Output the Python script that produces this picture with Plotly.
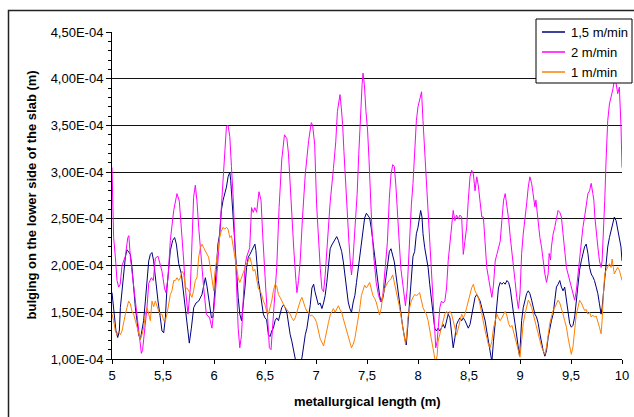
import plotly.graph_objects as go

# bulging values are given in units of 1e-4 m
SCALE = 1e-4

x_15 = [5.0, 5.01, 5.026, 5.039, 5.056, 5.072, 5.082, 5.098, 5.114, 5.131, 5.147, 5.163, 5.18, 5.196, 5.212, 5.229,
        5.245, 5.261, 5.278, 5.294, 5.31, 5.327, 5.343, 5.36, 5.376, 5.392, 5.408, 5.425, 5.451, 5.474, 5.49, 5.507,
        5.523, 5.539, 5.556, 5.572, 5.595, 5.614, 5.631, 5.654, 5.68, 5.703, 5.725, 5.745, 5.758, 5.778, 5.801, 5.824,
        5.85, 5.882, 5.915, 5.931, 5.944, 5.957, 5.975, 5.99, 6.007, 6.023, 6.039, 6.056, 6.072, 6.089, 6.105, 6.122,
        6.138, 6.155, 6.164, 6.178, 6.188, 6.204, 6.22, 6.237, 6.253, 6.27, 6.286, 6.303, 6.319, 6.336, 6.352, 6.368,
        6.385, 6.401, 6.411, 6.421, 6.434, 6.451, 6.467, 6.484, 6.5, 6.516, 6.533, 6.549, 6.566, 6.582, 6.599, 6.615,
        6.632, 6.648, 6.664, 6.681, 6.697, 6.714, 6.73, 6.747, 6.763, 6.78, 6.796, 6.806, 6.83, 6.845, 6.862, 6.878,
        6.895, 6.911, 6.928, 6.944, 6.96, 6.977, 6.99, 7.006, 7.023, 7.04, 7.058, 7.074, 7.09, 7.106, 7.122, 7.139,
        7.155, 7.171, 7.187, 7.203, 7.219, 7.235, 7.252, 7.268, 7.284, 7.3, 7.316, 7.332, 7.348, 7.365, 7.381, 7.397,
        7.413, 7.429, 7.445, 7.461, 7.477, 7.494, 7.51, 7.526, 7.542, 7.558, 7.574, 7.59, 7.606, 7.623, 7.639, 7.655,
        7.671, 7.687, 7.703, 7.719, 7.735, 7.752, 7.768, 7.784, 7.8, 7.816, 7.832, 7.848, 7.865, 7.885, 7.903, 7.919,
        7.935, 7.951, 7.967, 7.984, 8.0, 8.016, 8.026, 8.039, 8.049, 8.066, 8.082, 8.099, 8.115, 8.132, 8.148, 8.164,
        8.18, 8.197, 8.214, 8.23, 8.247, 8.263, 8.28, 8.296, 8.313, 8.329, 8.345, 8.362, 8.378, 8.395, 8.411, 8.428,
        8.444, 8.461, 8.477, 8.493, 8.51, 8.526, 8.543, 8.559, 8.576, 8.592, 8.609, 8.625, 8.641, 8.658, 8.674, 8.691,
        8.707, 8.724, 8.74, 8.757, 8.773, 8.789, 8.806, 8.822, 8.839, 8.855, 8.872, 8.888, 8.905, 8.921, 8.935, 8.951,
        8.968, 8.984, 8.995, 9.0, 9.016, 9.032, 9.049, 9.065, 9.081, 9.097, 9.114, 9.13, 9.146, 9.162, 9.179, 9.195,
        9.211, 9.227, 9.244, 9.26, 9.276, 9.292, 9.308, 9.325, 9.341, 9.357, 9.373, 9.39, 9.406, 9.422, 9.438, 9.455,
        9.471, 9.487, 9.503, 9.519, 9.536, 9.552, 9.568, 9.584, 9.601, 9.617, 9.633, 9.649, 9.666, 9.682, 9.698, 9.714,
        9.73, 9.747, 9.763, 9.779, 9.795, 9.805, 9.818, 9.831, 9.844, 9.86, 9.877, 9.893, 9.909, 9.925, 9.942, 9.958,
        9.974, 9.99, 10.0]
y_15 = [1.71, 1.62, 1.44, 1.3, 1.23, 1.3, 1.55, 1.73, 1.91, 2.09, 2.17, 2.15, 2.12, 1.98, 1.76, 1.55,
        1.41, 1.26, 1.21, 1.3, 1.41, 1.62, 1.87, 2.05, 2.12, 2.14, 2.05, 1.87, 1.62, 1.44, 1.3, 1.28,
        1.44, 1.76, 1.98, 2.16, 2.27, 2.3, 2.23, 2.02, 1.91, 1.69, 1.44, 1.26, 1.17, 1.33, 1.55, 1.6,
        1.62, 1.69, 1.87, 1.78, 1.69, 1.55, 1.44, 1.45, 1.69, 1.98, 2.23, 2.34, 2.59, 2.7, 2.77, 2.84,
        2.95, 3.0, 2.91, 2.7, 2.48, 2.23, 1.98, 1.66, 1.48, 1.41, 1.55, 1.76, 1.98, 2.09, 2.12, 2.16,
        2.21, 2.23, 2.16, 1.98, 1.84, 1.73, 1.62, 1.48, 1.44, 1.42, 1.26, 1.24, 1.3, 1.33, 1.41, 1.44,
        1.41, 1.48, 1.55, 1.58, 1.55, 1.5, 1.37, 1.26, 1.19, 1.1, 1.01, 0.95, 0.95, 0.97, 1.01, 1.15,
        1.26, 1.33, 1.44, 1.58, 1.76, 1.8, 1.72, 1.65, 1.58, 1.6, 1.54, 1.6, 1.68, 1.82, 2.04, 2.18,
        2.22, 2.25, 2.29, 2.31, 2.27, 2.22, 2.15, 2.04, 1.9, 1.75, 1.61, 1.54, 1.5, 1.61, 1.68, 1.82,
        1.97, 2.11, 2.25, 2.4, 2.51, 2.56, 2.54, 2.51, 2.4, 2.25, 2.11, 1.97, 1.82, 1.68, 1.61, 1.65,
        1.75, 1.9, 2.04, 2.15, 2.18, 2.11, 2.04, 1.9, 1.75, 1.61, 1.47, 1.36, 1.25, 1.15, 1.4, 1.63,
        1.86, 2.1, 2.15, 2.34, 2.41, 2.55, 2.59, 2.52, 2.34, 2.19, 2.09, 1.98, 1.8, 1.62, 1.48, 1.33,
        1.3, 1.33, 1.3, 1.33, 1.37, 1.33, 1.41, 1.48, 1.44, 1.26, 1.12, 1.23, 1.37, 1.41, 1.44, 1.41,
        1.44, 1.41, 1.37, 1.33, 1.37, 1.48, 1.58, 1.66, 1.69, 1.66, 1.62, 1.55, 1.48, 1.41, 1.3, 1.19,
        1.05, 0.97, 1.19, 1.41, 1.62, 1.76, 1.82, 1.8, 1.82, 1.8, 1.84, 1.82, 1.75, 1.64, 1.5, 1.38,
        1.25, 1.12, 1.03, 1.1, 1.41, 1.55, 1.63, 1.7, 1.73, 1.7, 1.63, 1.55, 1.48, 1.45, 1.38, 1.27,
        1.16, 1.09, 1.03, 1.09, 1.23, 1.34, 1.41, 1.48, 1.63, 1.77, 1.8, 1.84, 1.77, 1.73, 1.77, 1.63,
        1.48, 1.38, 1.34, 1.36, 1.45, 1.63, 1.77, 1.95, 2.05, 2.13, 2.2, 2.23, 2.13, 1.98, 1.91, 1.88,
        1.84, 1.77, 1.7, 1.59, 1.48, 1.55, 1.7, 1.91, 2.05, 2.2, 2.3, 2.38, 2.45, 2.52, 2.48, 2.38,
        2.27, 2.2, 2.05]

x_2 = [5.0, 5.007, 5.016, 5.033, 5.049, 5.065, 5.08, 5.098, 5.131, 5.155, 5.165, 5.18, 5.212, 5.245, 5.268, 5.288,
       5.3, 5.317, 5.343, 5.36, 5.386, 5.405, 5.425, 5.451, 5.47, 5.49, 5.516, 5.529, 5.549, 5.572, 5.605, 5.637,
       5.66, 5.68, 5.703, 5.719, 5.745, 5.768, 5.784, 5.8, 5.817, 5.833, 5.85, 5.876, 5.899, 5.925, 5.957, 5.98,
       6.007, 6.039, 6.072, 6.099, 6.122, 6.138, 6.155, 6.171, 6.188, 6.204, 6.22, 6.237, 6.253, 6.27, 6.286, 6.303,
       6.319, 6.35, 6.368, 6.385, 6.401, 6.418, 6.441, 6.461, 6.477, 6.493, 6.507, 6.526, 6.543, 6.559, 6.582, 6.615,
       6.638, 6.664, 6.691, 6.714, 6.73, 6.747, 6.763, 6.783, 6.803, 6.813, 6.829, 6.845, 6.868, 6.895, 6.928, 6.954,
       6.967, 6.987, 7.006, 7.023, 7.042, 7.058, 7.074, 7.09, 7.113, 7.139, 7.171, 7.194, 7.21, 7.226, 7.235, 7.248,
       7.261, 7.274, 7.29, 7.306, 7.323, 7.339, 7.348, 7.361, 7.387, 7.403, 7.419, 7.435, 7.452, 7.461, 7.474, 7.49,
       7.506, 7.519, 7.532, 7.548, 7.565, 7.59, 7.613, 7.635, 7.655, 7.677, 7.7, 7.719, 7.735, 7.752, 7.768, 7.784,
       7.797, 7.816, 7.832, 7.855, 7.877, 7.894, 7.913, 7.935, 7.951, 7.967, 7.984, 8.0, 8.02, 8.035, 8.049, 8.066,
       8.082, 8.099, 8.115, 8.132, 8.148, 8.164, 8.174, 8.188, 8.197, 8.214, 8.23, 8.247, 8.263, 8.28, 8.296, 8.313,
       8.329, 8.345, 8.362, 8.378, 8.395, 8.411, 8.428, 8.444, 8.461, 8.477, 8.493, 8.51, 8.526, 8.543, 8.559, 8.576,
       8.592, 8.609, 8.625, 8.641, 8.658, 8.674, 8.691, 8.707, 8.724, 8.74, 8.757, 8.773, 8.789, 8.806, 8.822, 8.839,
       8.855, 8.872, 8.888, 8.905, 8.921, 8.935, 8.951, 8.968, 8.984, 9.0, 9.016, 9.032, 9.049, 9.065, 9.081, 9.097,
       9.114, 9.13, 9.146, 9.156, 9.169, 9.179, 9.195, 9.211, 9.227, 9.244, 9.26, 9.276, 9.286, 9.299, 9.308, 9.325,
       9.341, 9.357, 9.373, 9.39, 9.406, 9.422, 9.438, 9.455, 9.471, 9.487, 9.503, 9.519, 9.536, 9.552, 9.568, 9.584,
       9.601, 9.617, 9.633, 9.649, 9.666, 9.682, 9.698, 9.714, 9.724, 9.734, 9.747, 9.763, 9.779, 9.795, 9.805, 9.818,
       9.831, 9.844, 9.86, 9.877, 9.893, 9.909, 9.925, 9.942, 9.958, 9.974, 9.99, 10.0]
y_2 = [3.05, 2.73, 2.3, 2.09, 1.84, 1.77, 1.8, 2.0, 2.1, 2.3, 2.32, 2.09, 1.77, 1.48, 1.26, 1.06,
       1.1, 1.26, 1.55, 1.81, 1.87, 1.84, 2.08, 2.1, 2.03, 1.94, 1.75, 1.71, 1.87, 2.27, 2.59, 2.77,
       2.69, 2.41, 2.05, 1.76, 1.48, 1.76, 2.34, 2.73, 2.86, 2.69, 2.41, 2.05, 1.76, 1.48, 1.44, 1.33,
       1.62, 2.05, 2.62, 3.2, 3.49, 3.5, 3.38, 3.06, 2.73, 2.27, 1.76, 1.33, 1.12, 1.26, 1.62, 1.98,
       2.09, 2.19, 2.62, 2.57, 2.62, 2.57, 2.79, 2.7, 2.34, 1.98, 1.76, 1.44, 1.12, 1.1, 1.44, 1.98,
       2.62, 3.13, 3.4, 3.36, 3.2, 2.84, 2.52, 2.16, 1.84, 1.71, 1.84, 2.05, 2.52, 2.98, 3.34, 3.53,
       3.5, 3.3, 2.65, 2.25, 1.97, 1.75, 1.72, 1.9, 2.25, 2.68, 3.04, 3.33, 3.65, 3.8, 3.83, 3.69,
       3.51, 3.22, 2.86, 2.54, 2.25, 2.0, 1.9, 2.04, 2.47, 2.76, 3.19, 3.62, 3.94, 4.06, 3.94, 3.65,
       3.44, 3.15, 2.76, 2.4, 2.11, 1.82, 1.68, 1.61, 1.68, 1.97, 2.25, 2.72, 2.97, 3.08, 3.06, 2.84,
       2.54, 2.25, 1.97, 1.75, 1.57, 1.75, 2.25, 2.65, 2.88, 3.23, 3.55, 3.7, 3.8, 3.86, 3.55, 3.23,
       2.88, 2.52, 2.24, 1.91, 1.62, 1.37, 1.12, 1.19, 1.33, 1.55, 1.62, 1.6, 1.62, 1.76, 2.05, 2.27,
       2.41, 2.59, 2.48, 2.54, 2.5, 2.54, 2.52, 2.12, 2.27, 2.41, 2.7, 2.95, 3.02, 2.98, 2.8, 2.95,
       2.85, 2.7, 2.52, 2.52, 2.27, 1.98, 1.87, 1.76, 1.66, 1.79, 2.05, 2.12, 2.19, 2.26, 2.48, 2.7,
       2.77, 2.64, 2.5, 2.3, 2.16, 2.02, 1.84, 1.66, 1.54, 1.7, 2.13, 2.34, 2.48, 2.66, 2.84, 2.95,
       2.88, 2.77, 2.63, 2.7, 2.55, 2.48, 2.3, 2.2, 2.05, 1.91, 1.82, 1.91, 2.13, 2.06, 2.2, 2.34,
       2.41, 2.52, 2.59, 2.57, 2.52, 2.34, 2.16, 1.98, 1.91, 1.84, 1.77, 1.7, 1.63, 1.73, 1.91, 2.09,
       2.2, 2.41, 2.52, 2.66, 2.77, 2.8, 2.88, 2.77, 2.7, 2.52, 2.34, 2.2, 2.05, 1.98, 2.05, 2.34,
       2.7, 3.13, 3.55, 3.73, 3.8, 3.88, 3.98, 3.95, 3.84, 3.91, 3.5, 3.05]

x_1 = [5.0, 5.016, 5.033, 5.049, 5.065, 5.082, 5.098, 5.114, 5.131, 5.147, 5.163, 5.18, 5.196, 5.212, 5.229, 5.245,
       5.261, 5.278, 5.294, 5.31, 5.327, 5.343, 5.36, 5.376, 5.392, 5.408, 5.425, 5.441, 5.458, 5.474, 5.49, 5.507,
       5.523, 5.539, 5.556, 5.572, 5.588, 5.605, 5.621, 5.637, 5.654, 5.67, 5.686, 5.703, 5.719, 5.735, 5.752, 5.768,
       5.784, 5.8, 5.817, 5.833, 5.85, 5.866, 5.882, 5.899, 5.915, 5.931, 5.947, 5.964, 5.98, 5.997, 6.007, 6.023,
       6.039, 6.056, 6.072, 6.089, 6.105, 6.122, 6.138, 6.155, 6.171, 6.188, 6.204, 6.22, 6.237, 6.253, 6.27, 6.286,
       6.303, 6.319, 6.336, 6.352, 6.368, 6.385, 6.401, 6.418, 6.434, 6.451, 6.467, 6.484, 6.5, 6.516, 6.533, 6.549,
       6.566, 6.582, 6.599, 6.615, 6.632, 6.648, 6.664, 6.681, 6.697, 6.714, 6.73, 6.747, 6.763, 6.78, 6.796, 6.813,
       6.829, 6.845, 6.862, 6.878, 6.895, 6.911, 6.928, 6.944, 6.96, 6.977, 6.99, 7.006, 7.023, 7.04, 7.058, 7.074,
       7.09, 7.106, 7.122, 7.139, 7.155, 7.171, 7.187, 7.203, 7.219, 7.235, 7.252, 7.268, 7.284, 7.3, 7.316, 7.332,
       7.348, 7.365, 7.381, 7.397, 7.413, 7.429, 7.445, 7.461, 7.477, 7.494, 7.51, 7.526, 7.542, 7.558, 7.574, 7.59,
       7.606, 7.623, 7.639, 7.655, 7.671, 7.687, 7.703, 7.719, 7.735, 7.752, 7.768, 7.784, 7.8, 7.816, 7.832, 7.848,
       7.865, 7.877, 7.887, 7.901, 7.918, 7.934, 7.951, 7.967, 7.984, 8.0, 8.016, 8.033, 8.049, 8.066, 8.082, 8.099,
       8.115, 8.132, 8.148, 8.164, 8.174, 8.188, 8.197, 8.214, 8.23, 8.247, 8.263, 8.28, 8.296, 8.313, 8.329, 8.345,
       8.362, 8.378, 8.395, 8.411, 8.428, 8.444, 8.461, 8.477, 8.493, 8.51, 8.526, 8.543, 8.559, 8.576, 8.592, 8.609,
       8.625, 8.641, 8.658, 8.674, 8.691, 8.707, 8.724, 8.74, 8.757, 8.773, 8.789, 8.806, 8.822, 8.839, 8.855, 8.872,
       8.888, 8.905, 8.921, 8.935, 8.951, 8.968, 8.984, 9.0, 9.016, 9.032, 9.049, 9.065, 9.081, 9.097, 9.114, 9.13,
       9.146, 9.162, 9.179, 9.195, 9.211, 9.227, 9.244, 9.26, 9.276, 9.292, 9.308, 9.325, 9.341, 9.357, 9.373, 9.39,
       9.406, 9.422, 9.438, 9.455, 9.471, 9.487, 9.503, 9.519, 9.536, 9.552, 9.568, 9.584, 9.601, 9.617, 9.633, 9.649,
       9.666, 9.682, 9.698, 9.714, 9.73, 9.747, 9.763, 9.779, 9.795, 9.805, 9.818, 9.831, 9.844, 9.86, 9.877, 9.893,
       9.903, 9.915, 9.925, 9.942, 9.958, 9.974, 9.99, 10.0]
y_1 = [1.48, 1.41, 1.3, 1.26, 1.3, 1.26, 1.3, 1.41, 1.48, 1.55, 1.62, 1.59, 1.51, 1.48, 1.41, 1.33,
       1.26, 1.21, 1.26, 1.33, 1.48, 1.55, 1.48, 1.41, 1.62, 1.56, 1.62, 1.56, 1.51, 1.48, 1.48, 1.41,
       1.41, 1.48, 1.58, 1.69, 1.73, 1.84, 1.84, 1.87, 1.84, 1.87, 1.94, 1.91, 1.76, 1.76, 1.73, 1.69,
       1.66, 1.73, 1.84, 1.87, 2.09, 2.19, 2.23, 2.19, 2.16, 2.12, 2.09, 1.98, 1.84, 1.73, 1.91, 2.05,
       2.19, 2.3, 2.37, 2.41, 2.39, 2.41, 2.39, 2.3, 2.32, 2.19, 2.09, 1.98, 1.87, 1.82, 1.87, 1.94,
       1.98, 2.02, 2.05, 2.09, 2.02, 1.94, 1.96, 1.84, 1.76, 1.73, 1.69, 1.62, 1.58, 1.51, 1.48, 1.55,
       1.62, 1.73, 1.8, 1.78, 1.69, 1.66, 1.62, 1.58, 1.55, 1.53, 1.51, 1.48, 1.44, 1.41, 1.44, 1.51,
       1.58, 1.62, 1.66, 1.6, 1.55, 1.51, 1.5, 1.46, 1.47, 1.45, 1.43, 1.39, 1.29, 1.22, 1.18, 1.14,
       1.22, 1.29, 1.39, 1.47, 1.5, 1.54, 1.5, 1.54, 1.57, 1.53, 1.5, 1.43, 1.36, 1.29, 1.22, 1.18,
       1.12, 1.16, 1.22, 1.32, 1.43, 1.54, 1.68, 1.75, 1.79, 1.76, 1.79, 1.82, 1.75, 1.68, 1.65, 1.61,
       1.54, 1.47, 1.54, 1.68, 1.75, 1.79, 1.82, 1.84, 1.86, 1.9, 1.82, 1.75, 1.68, 1.57, 1.47, 1.36,
       1.25, 1.16, 1.22, 1.44, 1.55, 1.62, 1.66, 1.69, 1.68, 1.69, 1.71, 1.62, 1.55, 1.51, 1.48, 1.41,
       1.3, 1.19, 1.08, 1.01, 0.96, 1.04, 1.19, 1.26, 1.33, 1.41, 1.48, 1.51, 1.48, 1.51, 1.48, 1.41,
       1.33, 1.26, 1.33, 1.41, 1.48, 1.44, 1.48, 1.55, 1.62, 1.69, 1.76, 1.8, 1.73, 1.69, 1.66, 1.58,
       1.48, 1.41, 1.3, 1.23, 1.15, 1.12, 1.19, 1.33, 1.41, 1.48, 1.44, 1.41, 1.44, 1.48, 1.51, 1.46,
       1.38, 1.34, 1.36, 1.3, 1.23, 1.16, 1.09, 1.02, 1.2, 1.38, 1.48, 1.55, 1.63, 1.6, 1.55, 1.48,
       1.41, 1.34, 1.27, 1.2, 1.13, 1.09, 1.05, 1.13, 1.27, 1.38, 1.45, 1.52, 1.55, 1.59, 1.63, 1.6,
       1.55, 1.48, 1.41, 1.34, 1.23, 1.13, 1.05, 1.13, 1.34, 1.48, 1.55, 1.63, 1.6, 1.55, 1.52, 1.53,
       1.48, 1.5, 1.45, 1.47, 1.45, 1.46, 1.41, 1.34, 1.27, 1.41, 1.7, 1.91, 1.95, 1.98, 2.02, 1.98,
       2.07, 1.98, 1.91, 1.95, 1.98, 1.95, 1.88, 1.84]

series_names = ["1,5 m/min", "2 m/min", "1 m/min"]
series_colors = ["#000080", "#FF00FF", "#FF8000"]

y_ticks = [1.0, 1.5, 2.0, 2.5, 3.0, 3.5, 4.0, 4.5]
y_ticklabels = ["1,00E-04", "1,50E-04", "2,00E-04", "2,50E-04",
                "3,00E-04", "3,50E-04", "4,00E-04", "4,50E-04"]
x_ticks = [5, 5.5, 6, 6.5, 7, 7.5, 8, 8.5, 9, 9.5, 10]
x_ticklabels = ["5", "5,5", "6", "6,5", "7", "7,5", "8", "8,5", "9", "9,5", "10"]

FONT = "Liberation Sans, Arial, sans-serif"

W, H = 634, 417
L, R, T, B = 112, 12, 32, 58
PW, PH = W - L - R, H - T - B


def px(xp):
    return (xp - L) / PW


def py(yp):
    return (H - B - yp) / PH


fig = go.Figure()
for xs, ys, name, col in zip([x_15, x_2, x_1], [y_15, y_2, y_1], series_names, series_colors):
    fig.add_trace(go.Scatter(x=xs, y=[v * SCALE for v in ys], mode="lines", name=name,
                             line=dict(color=col, width=1), showlegend=False))

shapes = []
annotations = []

# outer chart frame
shapes.append(dict(type="rect", xref="paper", yref="paper",
                   x0=px(8.5), x1=px(645), y0=py(10.5), y1=py(430),
                   line=dict(color="#222222", width=1.5), fillcolor="rgba(0,0,0,0)", layer="below"))

# legend box
shapes.append(dict(type="rect", xref="paper", yref="paper",
                   x0=px(536), x1=px(632), y0=py(19), y1=py(83),
                   line=dict(color="#000000", width=1), fillcolor="white", layer="above"))
for i, (name, col) in enumerate(zip(series_names, series_colors)):
    yy = 32 + 20 * i
    shapes.append(dict(type="line", xref="paper", yref="paper",
                       x0=px(542), x1=px(565), y0=py(yy), y1=py(yy),
                       line=dict(color=col, width=1.5), layer="above"))
    annotations.append(dict(xref="paper", yref="paper", x=px(569), y=py(yy),
                            xanchor="left", yanchor="middle", text=name, showarrow=False,
                            font=dict(family=FONT, size=13, color="black")))

# axis titles
annotations.append(dict(xref="paper", yref="paper", x=px(367), y=py(401),
                        xanchor="center", yanchor="middle", showarrow=False,
                        text="<b>metallurgical length (m)</b>",
                        font=dict(family=FONT, size=13, color="black")))
annotations.append(dict(xref="paper", yref="paper", x=px(31), y=0.5,
                        xanchor="center", yanchor="middle", showarrow=False, textangle=-90,
                        text="<b>bulging on the lower side of the slab (m)</b>",
                        font=dict(family=FONT, size=13, color="black")))

fig.update_layout(
    width=W, height=H,
    margin=dict(l=L, r=R, t=T, b=B, autoexpand=False),
    paper_bgcolor="white", plot_bgcolor="white",
    font=dict(family=FONT, size=13, color="black"),
    showlegend=False,
    shapes=shapes, annotations=annotations,
    xaxis=dict(range=[5, 10], tickmode="array", tickvals=x_ticks, ticktext=x_ticklabels,
               showgrid=False, zeroline=False, showline=True, linecolor="black", linewidth=1,
               ticks="outside", ticklen=4, tickcolor="black",
               tickfont=dict(family=FONT, size=13, color="black")),
    yaxis=dict(range=[1.0 * SCALE, 4.5 * SCALE], tickmode="array",
               tickvals=[v * SCALE for v in y_ticks], ticktext=y_ticklabels,
               showgrid=True, gridcolor="#111111", gridwidth=1, zeroline=False,
               showline=True, linecolor="black", linewidth=1,
               ticks="outside", ticklen=5, tickcolor="black",
               tickfont=dict(family=FONT, size=13, color="black"),
               minor=dict(tickmode="array",
                          tickvals=[(1.0 + 0.1 * k) * SCALE for k in range(36)],
                          ticks="outside", ticklen=3, tickcolor="black", showgrid=False)),
)

fig.write_html("out.html")
